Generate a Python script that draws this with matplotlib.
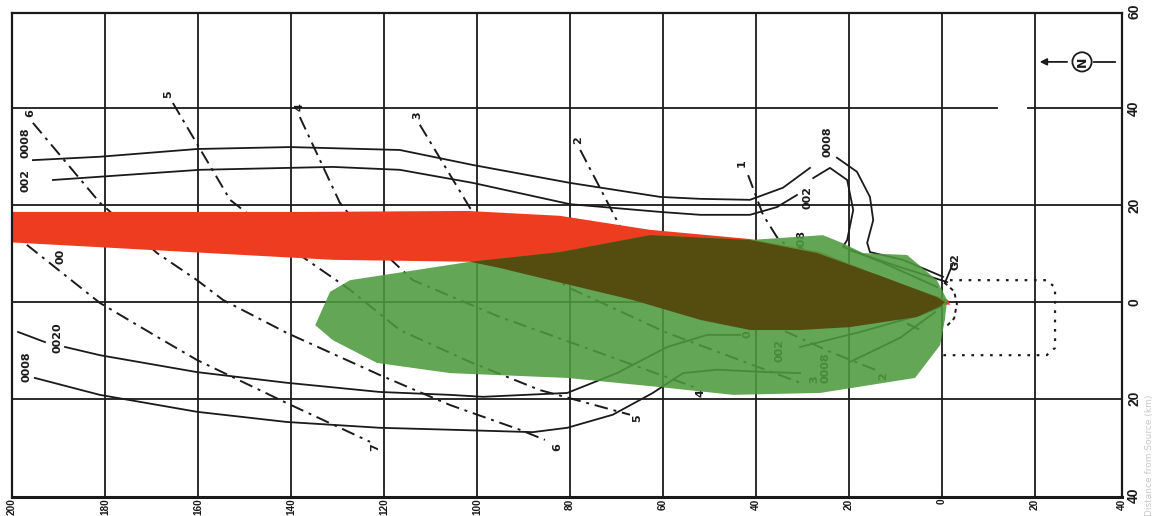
import matplotlib
matplotlib.use("Agg")
import matplotlib.pyplot as plt

# ===================== DATA (km) =====================
x_ticks = [200, 180, 160, 140, 120, 100, 80, 60, 40, 20, 0, -20, -38.7]
x_tick_labels = ["200", "180", "160", "140", "120", "100", "80", "60", "40", "20", "0", "20", "40"]
y_ticks = [60, 40, 20, 0, -20, -40]
y_tick_labels = ["60", "40", "20", "0", "20", "40"]

# shaded zones
red_x = [202, 138, 102, 82.2, 62.8, 41.3, 26.2, 11.2, -1.3, -1.7, 9.0, 52.0, 101.5, 131.0, 202]
red_y = [18.6, 18.6, 18.8, 17.8, 14.9, 13.0, 10.3, 4.5, 0.4, -0.6, 0.0, 3.5, 8.3, 8.7, 12.4]

green_x = [134.8, 131.6, 127.3, 101.5, 82.2, 62.8, 41.3, 25.6, 21.5, 17.0, 7.5, 1.1, -1.1,
           -0.6, 0.4, 5.8, 26.2, 44.9, 60.6, 80.6, 105.8, 121.5, 131.0]
green_y = [-4.8, 2.1, 4.5, 8.3, 10.3, 13.8, 12.8, 13.8, 12.2, 10.1, 9.7, 4.5, 0.4,
           -3.7, -8.9, -15.7, -18.8, -19.2, -17.6, -15.7, -14.7, -12.6, -7.9]

dark_x = [101.5, 82.2, 62.8, 41.3, 26.9, 12.7, 1.1, -0.6, 0.2, 5.4, 19.8, 30.5, 41.3, 52.0, 66.5, 84.3, 95.0]
dark_y = [8.3, 10.3, 13.8, 12.8, 10.1, 5.2, 1.0, 0.0, -0.8, -3.1, -5.2, -5.8, -5.8, -3.7, 0.4, 4.5, 7.0]

# solid isolines (upper pair)
upper_008_x = [195.5, 181.1, 160.2, 140.2, 116.6, 100.9, 80.0, 60.6, 52.0, 41.3, 34.2, 28.4]
upper_008_y = [29.3, 30.0, 31.6, 32.0, 31.4, 28.3, 24.6, 21.7, 21.3, 21.1, 23.6, 27.7]
loop_008_x = [22.6, 18.3, 15.5, 14.8, 16.1, 15.5, 8.4, -0.2]
loop_008_y = [29.8, 26.9, 21.7, 16.9, 12.2, 10.3, 8.7, 5.2]
upper_02_x = [191.2, 159.6, 131.0, 116.6, 100.9, 80.0, 60.6, 52.0, 41.3, 35.5, 31.2]
upper_02_y = [25.2, 27.3, 27.9, 27.3, 24.6, 20.2, 18.6, 18.0, 18.0, 19.6, 22.1]
loop_02_x = [27.7, 24.1, 20.4, 19.1, 20.4, 21.3, 12.7, 1.1]
loop_02_y = [25.6, 27.7, 25.2, 19.0, 12.8, 11.4, 8.1, 3.1]
tip_line_x = [19.8, 10.0, -1.1]
tip_line_y = [10.7, 7.5, 4.1]
tip_tick_x = [-2.4, -0.6]
tip_tick_y = [8.1, 3.9]

# solid isolines (lower pair)
lower_02_x = [188.6, 181.1, 160.2, 140.9, 120.9, 105.8, 98.7, 80.6, 69.9, 59.1, 50.5, 43.4]
lower_02_y = [-9.3, -11.0, -14.5, -16.7, -18.6, -19.2, -19.6, -18.8, -14.7, -9.3, -6.8, -6.8]
lower_02b_x = [30.5, 17.6, 4.7, 0.4]
lower_02b_y = [-9.3, -6.2, -2.7, -1.0]
lower_02_tick_x = [198.7, 192.9]
lower_02_tick_y = [-6.2, -8.3]
lower_008_x = [195.1, 181.1, 160.2, 140.9, 120.9, 105.8, 88.0, 80.6, 70.8, 62.2, 55.7, 48.4, 37.6, 30.5]
lower_008_y = [-15.7, -19.2, -22.7, -24.8, -26.0, -26.4, -26.9, -26.0, -23.3, -18.8, -14.7, -14.0, -14.5, -14.7]
lower_008b_x = [19.8, 9.0, 1.5]
lower_008b_y = [-12.4, -7.4, -2.1]

# dash-dot isochrones 1..7
iso_x = {
    1: [41.7, 38.5, 35.5, 26.2, 13.3, 4.7],
    2: [77.8, 69.2, 56.3, 39.1, 24.1, 14.4],
    3: [112.3, 101.5, 92.9, 80.6, 59.1, 30.5],
    4: [138.1, 129.5, 123.0, 113.8, 95.1, 79.4, 52.7],
    5: [165.4, 153.1, 138.1, 127.3, 116.6, 101.5, 86.5, 67.1],
    6: [195.5, 181.1, 168.8, 160.2, 154.6, 140.9, 120.9, 105.8, 90.8, 85.4],
    7: [196.8, 181.1, 168.8, 160.2, 140.9, 123.0],
}
iso_y = {
    1: [26.2, 18.0, 13.4, 5.6, -1.7, -5.8],
    2: [31.4, 15.5, 6.6, -3.7, -10.3, -14.0],
    3: [36.6, 19.4, 11.8, 3.1, -6.4, -16.7],
    4: [38.2, 20.5, 12.8, 4.5, -3.1, -8.5, -17.8],
    5: [41.1, 21.1, 9.7, 2.5, -5.8, -12.4, -18.2, -23.3],
    6: [37.0, 20.5, 10.1, 4.5, 0.4, -6.4, -15.1, -21.3, -26.4, -28.5],
    7: [11.8, -0.2, -7.2, -12.0, -20.9, -28.9],
}
iso_top_labels = [("1", 43.0, 28.6), ("2", 78.3, 33.4), ("3", 112.9, 38.6), ("4", 138.1, 40.2),
                  ("5", 166.5, 43.0), ("6", 196.1, 39.0)]
iso_bottom_labels = [("2", 12.7, -15.3), ("3", 27.5, -16.0), ("4", 52.0, -18.8),
                     ("5", 65.6, -24.0), ("6", 82.8, -30.0), ("7", 121.9, -30.0)]

iso_text = [("0008", 197.0, 33.0), ("002", 197.0, 25.0), ("00", 189.5, 9.5),
            ("0008", 24.7, 33.1), ("002", 29.0, 21.5), ("008", 30.3, 12.5), ("G2", -2.8, 8.3),
            ("0020", 190.3, -7.4), ("0008", 196.8, -13.4), ("0", 41.9, -6.6),
            ("002", 35.0, -10.0), ("0008", 25.0, -13.5)]

# source box (dotted)
box_x = [-1.7, -22.5, -24.3, -24.3, -22.5, 0.0]
box_y = [4.5, 4.5, 3.0, -9.5, -11.0, -11.0]
near_x = [-0.5, -2.6, -3.2, -2.6, -0.8]
near_y = [4.0, 2.2, -0.4, -3.4, -5.2]

# north arrow
north_x, north_y = -30.1, 49.6

RED = "#ee3c21"
GREEN = "#4d9a3d"
DARK = "#544d0f"
INK = "#1a1a1a"

# ===================== PLOT =====================
fig = plt.figure(figsize=(11.54, 5.16), dpi=100)
ax = fig.add_axes([12 / 1154, 1 - 497 / 516, 1110 / 1154, 484 / 516])
ax.set_xlim(200, -38.7)
ax.set_ylim(-40.3, 59.7)
ax.set_xticks([])
ax.set_yticks([])
for s in ax.spines.values():
    s.set_linewidth(1.6)
    s.set_color(INK)
    s.set_zorder(6)
ax.spines["bottom"].set_linewidth(2.2)

# grid
for xv in x_ticks[1:-1]:
    ax.plot([xv, xv], [-40.3, 59.7], color=INK, lw=1.3, zorder=1)
ax.plot([200, -11.9], [40, 40], color=INK, lw=1.3, zorder=1)
ax.plot([-18.5, -38.7], [40, 40], color=INK, lw=1.3, zorder=1)
for yv in [20, 0, -20]:
    ax.plot([200, -38.7], [yv, yv], color=INK, lw=1.3, zorder=1)

# isolines
kw = dict(color=INK, lw=1.3, zorder=1)
for xs, ys in [(upper_008_x, upper_008_y), (loop_008_x, loop_008_y), (upper_02_x, upper_02_y),
               (loop_02_x, loop_02_y), (tip_line_x, tip_line_y), (tip_tick_x, tip_tick_y),
               (lower_02_x, lower_02_y), (lower_02b_x, lower_02b_y), (lower_02_tick_x, lower_02_tick_y),
               (lower_008_x, lower_008_y), (lower_008b_x, lower_008b_y)]:
    ax.plot(xs, ys, **kw)

for k in iso_x:
    ax.plot(iso_x[k], iso_y[k], color=INK, lw=1.4, ls=(0, (7, 3, 1.5, 3)), zorder=1)

tkw = dict(rotation=90, ha="center", va="center", fontsize=8, fontweight="bold", color=INK, zorder=1)
for lab, xv, yv in iso_top_labels + iso_bottom_labels + iso_text:
    ax.text(xv, yv, lab, **tkw)

ax.plot(box_x, box_y, color=INK, lw=1.6, ls=(0, (1.2, 3)), zorder=1)
ax.plot(near_x, near_y, color=INK, lw=1.4, ls=(0, (2, 2)), zorder=1)

# shaded zones
ax.fill(red_x, red_y, color=RED, lw=0, zorder=2)
ax.fill(green_x, green_y, color=GREEN, alpha=0.88, lw=0, zorder=3)
ax.fill(dark_x, dark_y, color=DARK, lw=0, zorder=4)

# north arrow
ax.annotate("", xy=(north_x + 9.7, north_y), xytext=(north_x + 2.6, north_y),
            arrowprops=dict(arrowstyle="-|>", color=INK, lw=1.3, mutation_scale=10), zorder=5)
ax.plot([north_x - 2.6, north_x - 7.1], [north_y, north_y], color=INK, lw=1.3, zorder=5)
ax.text(north_x, north_y, "N", rotation=90, ha="center", va="center", fontsize=9, fontweight="bold",
        color=INK, zorder=5,
        bbox=dict(boxstyle="circle,pad=0.25", fc="white", ec=INK, lw=1.3))

# tick labels
lab_kw = dict(rotation=90, fontsize=7.2, fontweight="bold", family="Liberation Sans",
              color=INK, clip_on=False)
for xv, lab in zip(x_ticks, x_tick_labels):
    ax.text(xv, -40.6, lab, ha="center", va="top", **lab_kw)
lab_kw["fontsize"] = 10
for yv, lab in zip(y_ticks, y_tick_labels):
    ax.text(-39.8, yv, lab, ha="left", va="center", **lab_kw)
fig.text(1.0, 0.0, "Distance from Source (km)", rotation=90, ha="right", va="bottom",
         fontsize=6.5, color="#c8c8c8")

fig.savefig("out.png", dpi=100)
